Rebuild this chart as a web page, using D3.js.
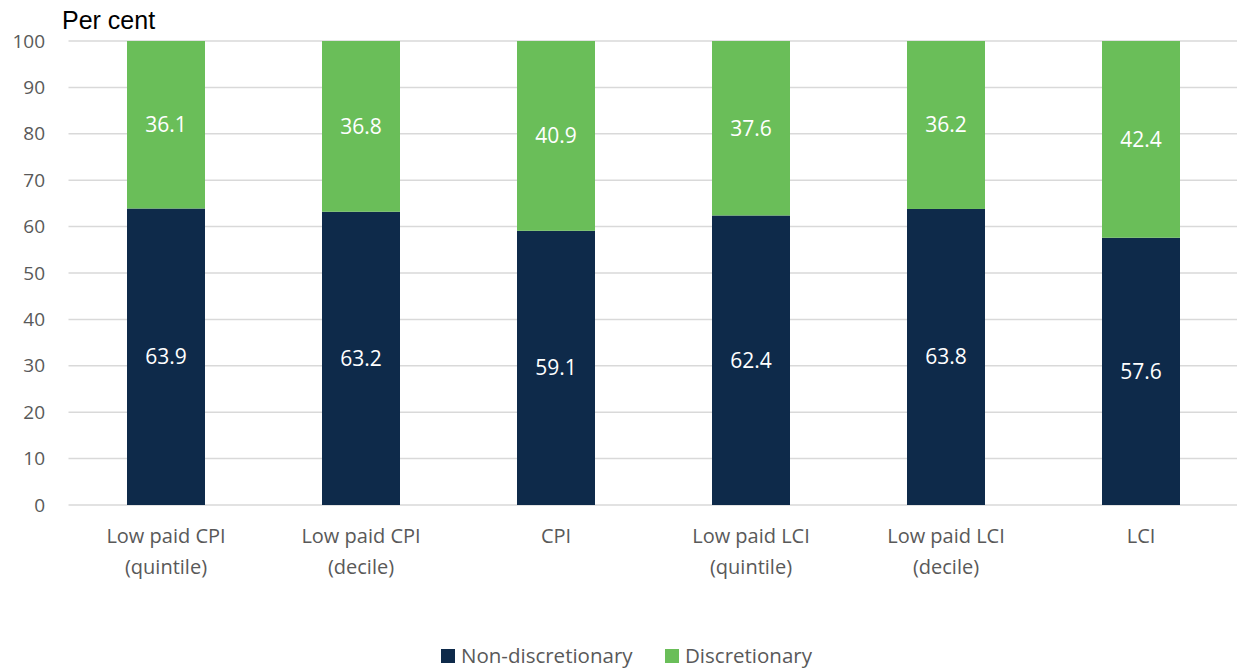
<!DOCTYPE html>
<html>
<head>
<meta charset="utf-8">
<script src="https://cdn.jsdelivr.net/npm/d3@7"></script>
<style>
body { margin: 0; background: #fff; }
</style>
</head>
<body>
<div id="chart"></div>
<script>
var categories = [
  ["Low paid CPI", "(quintile)"],
  ["Low paid CPI", "(decile)"],
  ["CPI"],
  ["Low paid LCI", "(quintile)"],
  ["Low paid LCI", "(decile)"],
  ["LCI"]
];
var nonDiscretionary = [63.9, 63.2, 59.1, 62.4, 63.8, 57.6];
var discretionary = [36.1, 36.8, 40.9, 37.6, 36.2, 42.4];
var seriesNames = ["Non-discretionary", "Discretionary"];
var yTicks = [0, 10, 20, 30, 40, 50, 60, 70, 80, 90, 100];

function init() {
  var w = 1237, h = 670;
  var left = 68.5, right = 1238.5, top = 41, bottom = 505;
  var colors = ["#0e2a4a", "#6abe59"];
  var font = "'Open Sans', sans-serif";

  var svg = d3.select("#chart").append("svg")
      .attr("width", w)
      .attr("height", h);

  var x = d3.scaleBand()
      .domain(d3.range(categories.length))
      .range([left, right])
      .paddingInner(0.6)
      .paddingOuter(0.3);

  var y = d3.scaleLinear()
      .domain([0, 100])
      .range([bottom, top]);

  // gridlines
  svg.selectAll("line.grid")
      .data(yTicks)
      .enter()
      .append("line")
      .attr("class", "grid")
      .attr("x1", left)
      .attr("x2", w)
      .attr("y1", function(d) { return y(d); })
      .attr("y2", function(d) { return y(d); })
      .attr("stroke", "#d9d9d9")
      .attr("stroke-width", 1.5);

  // y axis labels
  var yAxis = d3.axisLeft(y).tickValues(yTicks).tickSize(0).tickPadding(0);
  var ya = svg.append("g")
      .attr("transform", "translate(45,0)")
      .call(yAxis);
  ya.select(".domain").remove();
  ya.selectAll("text")
      .attr("font-family", font)
      .attr("font-size", 19)
      .attr("fill", "#595959");

  svg.append("text")
      .attr("x", 62)
      .attr("y", 29)
      .attr("font-family", "'Liberation Sans', Arial, sans-serif")
      .attr("font-size", 25)
      .attr("fill", "#000")
      .text("Per cent");

  // stacked bars
  var rows = categories.map(function(c, i) {
    return { i: i, nd: nonDiscretionary[i], d: discretionary[i] };
  });
  var stack = d3.stack().keys(["nd", "d"])(rows);

  var groups = svg.selectAll("g.series")
      .data(stack)
      .enter()
      .append("g")
      .attr("class", "series")
      .attr("fill", function(d, k) { return colors[k]; });

  groups.selectAll("rect")
      .data(function(d) { return d; })
      .enter()
      .append("rect")
      .attr("x", function(d) { return x(d.data.i); })
      .attr("y", function(d) { return y(Math.min(d[1], 100)); })
      .attr("width", x.bandwidth())
      .attr("height", function(d) { return y(d[0]) - y(Math.min(d[1], 100)); });

  groups.selectAll("text")
      .data(function(d) { return d; })
      .enter()
      .append("text")
      .attr("x", function(d) { return x(d.data.i) + x.bandwidth() / 2; })
      .attr("y", function(d) { return y((d[0] + Math.min(d[1], 100)) / 2); })
      .attr("dy", "0.35em")
      .attr("text-anchor", "middle")
      .attr("font-family", font)
      .attr("font-size", 21)
      .attr("fill", "#fff")
      .text(function(d) { return (d[1] - d[0]).toFixed(1); });

  // category labels
  var cat = svg.selectAll("text.cat")
      .data(categories)
      .enter()
      .append("text")
      .attr("class", "cat")
      .attr("text-anchor", "middle")
      .attr("font-family", font)
      .attr("font-size", 20)
      .attr("fill", "#595959");
  cat.selectAll("tspan")
      .data(function(d, i) { return d.map(function(t) { return { t: t, i: i }; }); })
      .enter()
      .append("tspan")
      .attr("x", function(d) { return x(d.i) + x.bandwidth() / 2; })
      .attr("y", function(d, j) { return 543 + j * 31; })
      .text(function(d) { return d.t; });

  // legend
  var legX = [441, 665];
  var leg = svg.selectAll("g.legend")
      .data(seriesNames)
      .enter()
      .append("g")
      .attr("class", "legend")
      .attr("transform", function(d, i) { return "translate(" + legX[i] + ",649)"; });
  leg.append("rect")
      .attr("width", 14)
      .attr("height", 14)
      .attr("fill", function(d, i) { return colors[i]; });
  leg.append("text")
      .attr("x", 20)
      .attr("y", 7)
      .attr("dy", "0.35em")
      .attr("font-family", font)
      .attr("font-size", 20.5)
      .attr("fill", "#595959")
      .text(function(d) { return d; });
}

window.onload = init;
</script>
</body>
</html>
